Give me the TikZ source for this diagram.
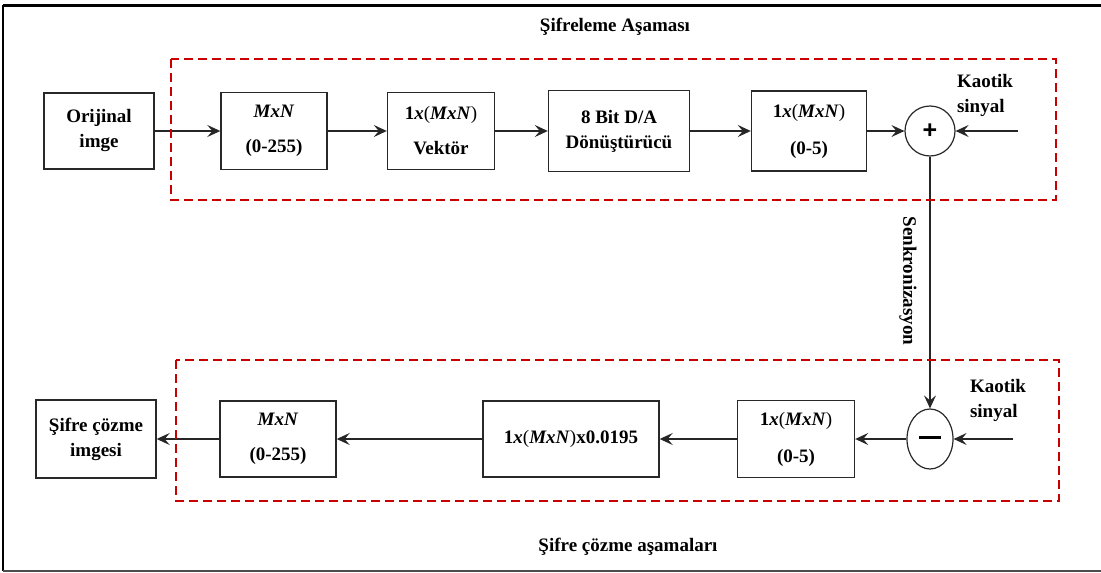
\documentclass[tikz,border=0pt]{standalone}
\usepackage{fontspec}
\setmainfont{Liberation Serif}
\newfontfamily\symfont{Liberation Sans}
\usepackage{tikz}
\usetikzlibrary{positioning,arrows.meta,shapes.geometric}
\definecolor{dRed}{RGB}{200,0,0}
\definecolor{dLine}{RGB}{40,40,40}
\newcommand{\mxn}{\textit{MxN}}
\newcommand{\vecmxn}{1\textit{x}{\mdseries(}\textit{MxN}{\mdseries)}}
\tikzset{
  blk/.style={rectangle, draw=dLine, line width=1.4pt, fill=white, align=center,
              font=\fontsize{19}{25}\selectfont\bfseries, inner sep=2pt},
  sumnode/.style={circle, draw=dLine, line width=1.2pt, minimum size=50pt,
                  inner sep=0pt, font=\symfont\fontsize{25}{25}\selectfont\bfseries},
  subnode/.style={ellipse, draw=dLine, line width=1.2pt, minimum width=46pt,
                  minimum height=60pt, inner sep=0pt},
  phase/.style={draw=dRed, line width=2.6pt, dash pattern=on 9pt off 5pt},
  flow/.style={-{Stealth[length=13pt,width=12pt,inset=5pt]}, draw=black!85, line width=1.3pt},
  lbl/.style={font=\fontsize{19}{25}\selectfont\bfseries, align=left, inner sep=0pt},
  ttl/.style={font=\fontsize{19}{25}\selectfont\bfseries, inner sep=0pt},
}

\begin{document}
\begin{tikzpicture}[x=1pt, y=-1pt]
  \useasboundingbox (0,0) rectangle (1101,573);
  % --- frame ---
  \draw[line width=3pt] (3,5) -- (1101,5);
  \draw[line width=2pt] (3,5) -- (3,571);
  \draw[line width=2pt, black!70] (3,571) -- (1101,571);

  \node[ttl] (enct) at (615,27) {Şifreleme Aşaması};
  \node[ttl] (dect) at (628,547) {Şifre çözme aşamaları};

  % --- encryption stage ---
  \node[blk, minimum width=110pt, minimum height=76pt] (orij) at (99,131) {Orijinal\\imge};
  \node[blk, minimum width=106pt, minimum height=77pt] (mxn1) at (274,131) {\mxn\\[10pt](0-255)};
  \node[blk, minimum width=107pt, minimum height=77pt] (vek)  at (441,131) {\vecmxn\\[10pt]Vektör};
  \node[blk, minimum width=141pt, minimum height=81pt] (da)   at (619,131) {8 Bit D/A\\Dönüştürücü};
  \node[blk, minimum width=115pt, minimum height=80pt] (v05)  at (809,131) {\vecmxn\\[12pt](0-5)};
  \node[sumnode] (plus) at (930,131) {+};
  \node[lbl] (kao1) at (985,95) {Kaotik\\sinyal};
  \coordinate (k1) at (1018,131);

  \draw[flow] (orij) -- (mxn1);
  \draw[flow] (mxn1) -- (vek);
  \draw[flow] (vek)  -- (da);
  \draw[flow] (da)   -- (v05);
  \draw[flow] (v05)  -- (plus);
  \draw[flow] (k1)   -- (plus);

  % --- synchronisation link ---
  \node[subnode] (minus) at (930,439) {\rule[0.5ex]{22pt}{2.8pt}};
  \draw[flow] (plus) -- (minus);
  \node[ttl, rotate=-90] (senk) at (908,281) {Senkronizasyon};

  % --- decryption stage ---
  \node[blk, minimum width=117pt, minimum height=77pt] (v05b) at (796,439) {\vecmxn\\[12pt](0-5)};
  \node[blk, minimum width=176pt, minimum height=76pt] (mult) at (571,439) {\vecmxn x0.0195};
  \node[blk, minimum width=116pt, minimum height=76pt] (mxn2) at (278,439) {\mxn\\[10pt](0-255)};
  \node[blk, minimum width=120pt, minimum height=78pt] (sifre) at (96,439) {Şifre çözme\\imgesi};
  \node[lbl] (kao2) at (998,400) {Kaotik\\sinyal};
  \coordinate (k2) at (1013,439);

  \draw[flow] (k2)    -- (minus);
  \draw[flow] (minus) -- (v05b);
  \draw[flow] (v05b)  -- (mult);
  \draw[flow] (mult)  -- (mxn2);
  \draw[flow] (mxn2)  -- (sifre);

  % --- phase boundaries ---
  \draw[phase] (171,59) rectangle (1056,200);
  \draw[phase] (176,360) rectangle (1059,501);
\end{tikzpicture}
\end{document}
